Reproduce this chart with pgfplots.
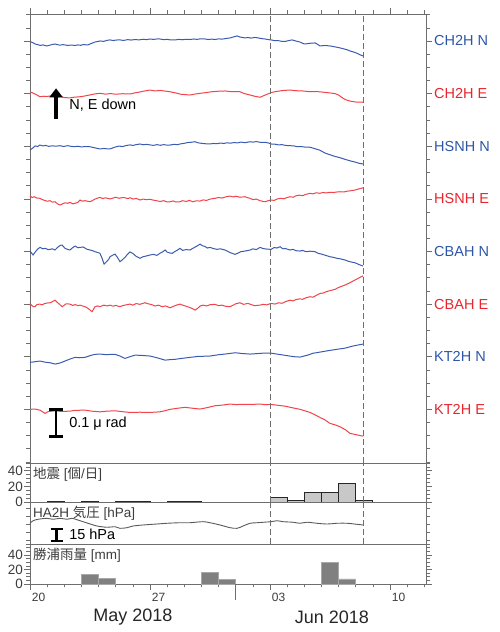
\documentclass[border=0pt]{standalone}
\usepackage{pgfplots}
\pgfplotsset{compat=1.18}
\usepackage{pgfplotstable}
\usepackage{fontspec}
\setmainfont{Liberation Sans}
\newfontfamily\cjk{Noto Sans CJK JP}
\usetikzlibrary{arrows.meta}
\definecolor{tblue}{HTML}{3A5CB0}
\definecolor{tred}{HTML}{F0434B}
\definecolor{lblue}{HTML}{2D56A8}
\definecolor{lred}{HTML}{E8252D}
\definecolor{axgray}{HTML}{6E6E6E}
\definecolor{txtgray}{HTML}{3C3C3C}
\definecolor{eqfill}{HTML}{C8C8C8}
\definecolor{rainfill}{HTML}{808080}
\definecolor{rainedge}{HTML}{A8A8A8}
\definecolor{presline}{HTML}{5A5A5A}

\pgfplotstableread{
x y
0 27.95
0.15 27.88
0.3 27.77
0.45 27.72
0.6 27.66
0.75 27.70
0.99 27.62
1.15 27.68
1.3 27.73
1.46 27.77
1.6 27.72
1.75 27.68
1.9 27.72
2.04 27.70
2.2 27.66
2.4 27.69
2.63 27.66
2.8 27.70
2.95 27.67
3.1 27.72
3.38 27.70
3.55 27.80
3.79 27.92
3.95 27.96
4.08 28.00
4.3 27.97
4.5 28.05
4.67 28.08
4.85 28.03
5.0 28.07
5.25 28.08
5.45 28.04
5.7 28.10
5.9 28.07
6.13 28.11
6.35 28.08
6.6 28.13
6.8 28.10
7.0 28.15
7.2 28.12
7.4 28.15
7.58 28.15
7.8 28.10
8.0 28.12
8.2 28.08
8.46 28.08
8.7 28.12
8.9 28.09
9.1 28.13
9.33 28.11
9.55 28.15
9.75 28.12
9.92 28.16
10.21 28.15
10.4 28.11
10.6 28.14
10.79 28.11
11.0 28.16
11.2 28.14
11.45 28.19
11.67 28.23
11.85 28.30
12.08 28.38
12.25 28.30
12.54 28.23
12.72 28.26
12.9 28.22
13.13 28.27
13.35 28.22
13.5 28.18
13.71 28.15
13.9 28.10
14.06 28.08
14.25 28.03
14.5 28.02
14.7 27.97
14.88 27.96
15.05 28.02
15.29 28.08
15.5 28.00
15.75 27.92
15.93 27.80
16.04 27.77
16.3 27.82
16.63 27.85
16.8 27.72
16.92 27.62
17.2 27.66
17.5 27.62
17.8 27.55
18.09 27.47
18.3 27.40
18.5 27.33
18.67 27.24
18.9 27.15
19.1 27.05
19.25 26.95
19.43 26.86
}\chN

\pgfplotstableread{
x y
0 24.14
0.2 24.02
0.4 23.90
0.58 23.76
0.8 23.80
1.0 23.78
1.17 23.82
1.4 23.75
1.6 23.72
1.8 23.78
2.0 23.70
2.33 23.67
2.55 23.72
2.92 23.76
3.2 23.82
3.5 23.90
3.8 23.98
4.08 24.02
4.4 23.96
4.7 24.00
5.0 23.95
5.4 23.99
5.83 23.97
6.1 24.05
6.4 24.12
6.7 24.20
7.0 24.27
7.3 24.20
7.6 24.24
8.17 24.14
8.5 24.05
8.8 23.95
9.33 23.89
9.6 23.96
9.92 24.02
10.3 24.08
10.6 24.14
11.0 24.18
11.38 24.20
11.7 24.15
12.25 24.14
12.5 24.00
12.84 23.89
13.1 23.80
13.42 23.72
13.7 23.88
14.06 24.07
14.3 24.15
14.59 24.20
14.8 24.24
15.17 24.27
15.5 24.22
15.9 24.20
16.34 24.14
16.7 24.16
17.0 24.12
17.5 24.05
17.79 24.00
18.0 23.89
18.2 23.70
18.38 23.55
18.67 23.43
19.0 23.36
19.43 23.34
}\chE

\pgfplotstableread{
x y
0 19.71
0.15 19.85
0.3 20.02
0.45 19.98
0.58 20.09
0.75 20.02
0.9 20.06
1.1 19.99
1.3 20.03
1.5 20.00
1.75 20.04
1.95 19.98
2.2 20.04
2.4 19.99
2.6 19.96
2.8 20.00
3.0 19.94
3.2 19.98
3.5 19.96
3.7 19.90
3.9 19.84
4.08 19.79
4.3 19.83
4.5 19.80
4.67 19.79
4.85 19.88
5.0 19.95
5.2 20.01
5.4 19.97
5.6 20.05
5.83 20.10
6.0 20.06
6.2 20.12
6.42 20.17
6.6 20.11
6.8 20.14
7.0 20.10
7.2 20.06
7.4 20.12
7.6 20.07
7.8 20.12
8.0 20.08
8.17 20.09
8.4 20.14
8.6 20.12
8.8 20.18
9.0 20.22
9.2 20.28
9.4 20.30
9.63 20.34
9.8 20.26
10.0 20.22
10.2 20.19
10.5 20.17
10.7 20.21
10.9 20.19
11.1 20.24
11.3 20.21
11.5 20.26
11.7 20.23
11.9 20.28
12.1 20.25
12.3 20.31
12.54 20.27
12.84 20.34
13.0 20.31
13.2 20.35
13.42 20.30
13.71 20.30
13.9 20.25
14.06 20.17
14.3 20.15
14.5 20.10
14.7 20.12
14.9 20.06
15.17 20.04
15.4 20.02
15.6 19.96
15.8 19.98
16.0 19.94
16.34 19.92
16.6 19.82
16.9 19.70
17.21 19.48
17.5 19.35
17.8 19.22
18.1 19.12
18.38 19.00
18.7 18.88
19.0 18.78
19.2 18.70
19.43 18.65
}\hsN

\pgfplotstableread{
x y
0 16.24
0.12 16.10
0.25 16.16
0.4 16.06
0.58 16.04
0.7 15.95
0.85 15.88
1.0 15.82
1.17 15.86
1.3 15.75
1.46 15.78
1.6 15.62
1.75 15.53
1.9 15.62
2.04 15.70
2.2 15.66
2.33 15.73
2.5 15.62
2.63 15.66
2.8 15.74
2.92 15.91
3.05 15.82
3.2 15.86
3.5 15.78
3.65 15.88
3.8 15.98
3.95 16.06
4.08 16.11
4.25 16.02
4.4 16.08
4.67 15.99
4.85 16.06
5.0 16.12
5.2 16.04
5.4 16.10
5.54 16.08
5.7 16.02
5.85 16.08
6.0 15.98
6.2 16.03
6.42 15.91
6.6 15.98
6.8 15.94
7.0 15.96
7.2 15.90
7.4 15.85
7.6 15.80
7.8 15.86
8.0 15.76
8.17 15.78
8.35 15.84
8.5 15.76
8.75 15.78
8.9 15.86
9.1 15.80
9.3 15.88
9.5 15.78
9.7 15.85
9.92 15.83
10.1 15.92
10.3 15.88
10.5 15.98
10.79 16.04
11.0 16.10
11.2 16.06
11.45 16.16
11.67 16.21
11.85 16.14
12.0 16.20
12.25 16.12
12.54 16.16
12.7 16.08
12.84 16.04
13.0 15.94
13.2 15.98
13.42 15.86
13.6 15.80
13.71 15.78
13.9 15.86
14.06 15.91
14.25 15.88
14.4 15.98
14.6 16.04
14.8 16.00
15.0 16.10
15.17 16.16
15.35 16.12
15.5 16.22
15.7 16.28
15.9 16.24
16.1 16.34
16.34 16.42
16.5 16.38
16.7 16.46
16.9 16.42
17.1 16.48
17.3 16.45
17.5 16.50
17.7 16.48
17.9 16.52
18.09 16.54
18.3 16.52
18.5 16.58
18.75 16.62
18.96 16.67
19.2 16.76
19.43 16.84
}\hsE

\pgfplotstableread{
x y
0 12.03
0.18 11.73
0.3 11.95
0.45 12.18
0.58 12.31
0.75 12.20
0.9 12.24
1.05 12.14
1.17 12.16
1.3 12.20
1.46 12.11
1.6 12.30
1.75 12.45
1.87 12.49
2.04 12.24
2.2 12.15
2.33 12.11
2.5 12.30
2.63 12.41
2.8 12.28
2.92 12.31
3.1 12.34
3.3 12.18
3.5 12.11
3.65 12.06
3.79 11.98
3.95 11.92
4.08 11.86
4.2 11.50
4.32 11.04
4.45 11.20
4.6 11.42
4.67 11.60
4.8 11.70
4.96 11.80
5.1 11.55
5.25 11.22
5.4 11.38
5.54 11.55
5.7 11.80
5.83 11.96
6.0 11.85
6.2 11.62
6.42 11.48
6.6 11.60
6.8 11.66
7.0 11.73
7.2 11.78
7.4 11.70
7.58 11.86
7.75 11.98
7.88 12.11
8.0 11.95
8.17 11.88
8.3 11.86
8.46 12.00
8.6 12.10
8.75 12.24
8.9 12.08
9.1 12.14
9.33 12.11
9.5 12.24
9.7 12.38
9.85 12.50
9.92 12.56
10.05 12.44
10.2 12.38
10.35 12.26
10.5 12.31
10.7 12.22
10.9 12.16
11.1 12.20
11.38 12.11
11.55 12.00
11.7 11.90
11.96 11.78
12.15 11.88
12.3 11.98
12.54 12.03
12.84 12.11
13.0 12.20
13.2 12.14
13.42 12.31
13.6 12.22
13.8 12.18
14.06 12.16
14.25 12.30
14.4 12.26
14.59 12.36
14.75 12.20
14.9 12.22
15.17 12.11
15.35 12.16
15.5 12.06
15.75 12.03
15.9 12.08
16.1 11.98
16.34 12.02
16.63 11.98
16.8 11.86
17.0 11.80
17.2 11.72
17.5 11.60
17.7 11.55
17.9 11.48
18.1 11.44
18.38 11.35
18.6 11.24
18.8 11.18
18.96 11.14
19.2 11.00
19.43 10.89
}\cbN

\pgfplotstableread{
x y
0 8.05
0.1 7.90
0.18 7.82
0.29 7.80
0.4 7.96
0.58 8.00
0.7 7.94
0.85 8.04
1.0 8.08
1.17 8.10
1.3 8.18
1.46 8.30
1.6 8.12
1.75 7.95
1.87 7.80
2.0 7.92
2.1 8.02
2.33 8.00
2.5 7.90
2.63 7.96
2.8 7.88
2.92 7.92
3.1 7.84
3.25 7.78
3.38 7.67
3.5 7.55
3.62 7.42
3.7 7.60
3.79 7.80
3.95 7.86
4.08 7.80
4.3 7.92
4.5 7.86
4.67 7.92
4.85 7.84
5.0 7.90
5.25 7.80
5.4 7.88
5.6 7.94
5.83 8.00
6.0 7.92
6.2 8.04
6.4 7.98
6.71 8.10
6.9 8.02
7.1 7.96
7.29 7.85
7.5 7.92
7.7 7.80
7.9 7.86
8.17 7.72
8.35 7.82
8.5 7.90
8.75 8.00
8.9 7.92
9.1 7.84
9.3 7.75
9.5 7.64
9.63 7.54
9.8 7.70
9.92 7.85
10.1 7.92
10.3 7.86
10.5 7.95
10.79 7.98
11.0 7.88
11.2 7.92
11.38 7.84
11.67 7.80
11.85 7.92
12.0 8.02
12.25 8.10
12.45 7.98
12.72 8.05
12.9 7.96
13.1 7.88
13.42 7.92
13.6 7.98
13.8 7.94
14.06 8.05
14.3 8.00
14.5 8.10
14.7 8.06
14.9 8.18
15.17 8.30
15.35 8.24
15.5 8.34
15.75 8.40
15.9 8.36
16.1 8.48
16.34 8.56
16.5 8.52
16.7 8.66
16.92 8.81
17.1 8.84
17.3 8.95
17.5 9.02
17.79 9.12
18.0 9.26
18.2 9.36
18.38 9.45
18.6 9.58
18.8 9.72
18.96 9.83
19.15 9.96
19.3 10.06
19.43 10.15
}\cbE

\pgfplotstableread{
x y
0 3.57
0.3 3.62
0.58 3.67
0.9 3.58
1.17 3.54
1.46 3.44
1.75 3.52
2.04 3.67
2.33 3.82
2.63 3.95
2.9 3.92
3.21 3.95
3.5 4.08
3.79 4.18
4.1 4.20
4.4 4.16
4.96 4.18
5.25 4.05
5.54 3.87
5.83 4.00
6.13 4.12
6.5 4.10
7.0 4.05
7.4 3.92
7.88 3.74
8.2 3.78
8.46 3.80
8.9 3.88
9.33 3.95
9.8 4.02
10.5 4.05
11.0 4.15
11.5 4.22
11.96 4.30
12.4 4.24
12.84 4.20
13.3 4.24
13.7 4.28
14.06 4.27
14.5 4.18
15.0 4.08
15.4 4.00
15.75 3.97
16.2 4.12
16.5 4.26
16.92 4.35
17.4 4.46
17.9 4.56
18.38 4.65
18.8 4.80
19.1 4.88
19.43 4.96
}\ktN

\pgfplotstableread{
x y
0 0.0
0.3 0.02
0.58 -0.06
0.75 -0.20
0.88 -0.31
1.05 -0.18
1.46 -0.11
1.8 -0.16
2.33 -0.14
2.6 -0.08
3.21 -0.06
3.6 -0.14
4.08 -0.19
4.5 -0.14
4.96 -0.11
5.4 -0.18
5.83 -0.24
6.4 -0.22
7.0 -0.24
7.58 -0.19
7.9 -0.10
8.17 0.0
8.6 0.08
9.04 0.15
9.5 0.08
9.92 0.02
10.3 0.12
10.79 0.27
11.2 0.32
11.67 0.40
12.0 0.36
12.25 0.37
12.84 0.37
13.42 0.40
13.7 0.36
14.06 0.37
14.5 0.30
14.88 0.24
15.3 0.12
15.75 0.0
16.0 -0.10
16.34 -0.24
16.6 -0.40
16.92 -0.62
17.2 -0.80
17.5 -1.07
17.8 -1.18
18.09 -1.33
18.4 -1.55
18.67 -1.83
19.0 -1.92
19.2 -1.98
19.43 -2.04
}\ktE

\pgfplotstableread{
x y
0 1010.9
0.18 1014.1
0.47 1015.9
0.99 1017.1
1.34 1015.9
1.75 1017.1
2.16 1015.9
2.45 1017.1
2.92 1014.1
3.38 1010.9
3.91 1007.5
4.49 1005.9
4.96 1006.6
5.25 1004.6
5.66 1005.4
6.01 1007.5
6.59 1008.75
7.41 1010.0
7.99 1010.9
8.75 1011.6
9.33 1011.6
10.09 1012.9
10.50 1011.6
11.09 1008.75
11.67 1005.4
12.08 1004.6
12.43 1007.5
12.84 1010.9
13.25 1011.6
14.06 1012.9
14.41 1014.1
14.76 1012.9
15.34 1012.2
15.75 1010.9
16.16 1012.2
16.74 1010.9
17.33 1010.0
17.91 1010.9
18.50 1010.9
19.08 1009.6
19.43 1008.75
}\pres

\pgfplotsset{
  base/.style={
    scale only axis, width=396pt, xmin=0, xmax=23.1,
    axis line style={draw=axgray, line width=0.9pt},
    every tick/.style={draw=axgray, line width=0.6pt},
    tick align=outside,
    major tick length=5.5pt, minor tick length=3.5pt,
    /pgf/number format/assume math mode=true,
    ticklabel style={text=txtgray},
  },
}

\begin{document}
\begin{tikzpicture}
\useasboundingbox (0pt,0pt) rectangle (500pt,632pt);

% ---------------- main tilt panel ----------------
\begin{axis}[base, at={(30pt,169pt)}, anchor=south west, height=449pt,
  ymin=-4.08, ymax=30.05,
  xtick={0,7,14,21}, minor xtick={0,1,...,23}, xticklabels={}, xtick pos=upper,
  ytick={0,4,...,28}, minor ytick={-4,-3,...,30}, ytick pos=both, yticklabel pos=right,
  yticklabels={{\color{lred}KT2H E},{\color{lblue}KT2H N},{\color{lred}CBAH E},{\color{lblue}CBAH N},
               {\color{lred}HSNH E},{\color{lblue}HSNH N},{\color{lred}CH2H E},{\color{lblue}CH2H N}},
  yticklabel style={font=\fontsize{14.5}{15}\selectfont, inner sep=2.5pt},
  clip=false]
\addplot[tblue, line width=1pt, mark=none] table {\chN};
\addplot[tred, line width=1pt, mark=none] table {\chE};
\addplot[tblue, line width=1pt, mark=none] table {\hsN};
\addplot[tred, line width=1pt, mark=none] table {\hsE};
\addplot[tblue, line width=1pt, mark=none] table {\cbN};
\addplot[tred, line width=1pt, mark=none] table {\cbE};
\addplot[tblue, line width=1pt, mark=none] table {\ktN};
\addplot[tred, line width=1pt, mark=none] table {\ktE};
\draw[axgray, line width=1pt, dash pattern=on 6pt off 3pt] (axis cs:14,-4.08) -- (axis cs:14,30.05);
\draw[axgray, line width=1pt, dash pattern=on 6pt off 3pt] (axis cs:19.43,-4.08) -- (axis cs:19.43,30.05);
% arrow
\draw[black, line width=3.4pt, -{Triangle[length=9pt,width=13pt]}] (axis cs:1.52,22.05) -- (axis cs:1.52,24.4);
\node[anchor=west, inner sep=0pt, font=\fontsize{14.5}{15}\selectfont] at (axis cs:2.28,23.13) {N, E down};
% scale bar
\draw[black, line width=2.8pt] (axis cs:1.52,0) -- (axis cs:1.52,-2.04);
\draw[black, line width=2.8pt] (axis cs:1.1,0) -- (axis cs:1.94,0);
\draw[black, line width=2.8pt] (axis cs:1.1,-2.04) -- (axis cs:1.94,-2.04);
\node[anchor=west, inner sep=0pt, font=\fontsize{14.5}{15}\selectfont] at (axis cs:2.28,-1.07) {0.1 μ rad};
\end{axis}

% ---------------- earthquakes ----------------
\begin{axis}[base, at={(30pt,130pt)}, anchor=south west, height=39pt,
  ymin=0, ymax=50, xtick=\empty,
  ytick={0,20,40}, minor ytick={0,5,...,50}, ytick pos=both, yticklabel pos=left,
  yticklabel style={font=\fontsize{13.5}{14}\selectfont, inner sep=1.5pt},
  clip=false]
\addplot[ybar, bar width=1, fill=eqfill, draw=black!85, line width=0.9pt] coordinates {
 (1.5,1) (3.5,1) (5.5,1) (6.5,1) (8.5,1) (9.5,1)
 (14.5,6) (15.5,2) (16.5,12) (17.5,12) (18.5,24) (19.5,2)};
\draw[axgray, line width=1pt, dash pattern=on 6pt off 3pt] (axis cs:14,0) -- (axis cs:14,50);
\draw[axgray, line width=1pt, dash pattern=on 6pt off 3pt] (axis cs:19.43,0) -- (axis cs:19.43,50);
\node[anchor=north west, inner sep=0pt, text=txtgray, font=\fontsize{13.5}{14}\selectfont] at (rel axis cs:0,1) [xshift=3pt, yshift=-3.5pt] {{\cjk 地震} [{\cjk 個}/{\cjk 日}]};
\end{axis}

% ---------------- pressure ----------------
\begin{axis}[base, at={(30pt,88pt)}, anchor=south west, height=42pt,
  ymin=985, ymax=1037.5, xtick=\empty,
  ytick={990,1000,...,1030}, yticklabels={}, ytick pos=both, major tick length=3.5pt,
  clip=false]
\addplot[presline, line width=0.9pt, mark=none, smooth] table {\pres};
\draw[axgray, line width=1pt, dash pattern=on 6pt off 3pt] (axis cs:14,985) -- (axis cs:14,1037.5);
\draw[axgray, line width=1pt, dash pattern=on 6pt off 3pt] (axis cs:19.43,985) -- (axis cs:19.43,1037.5);
\draw[black, line width=2.6pt] (axis cs:1.56,988.7) -- (axis cs:1.56,1003.7);
\draw[black, line width=2.6pt] (axis cs:1.2,988.7) -- (axis cs:1.92,988.7);
\draw[black, line width=2.6pt] (axis cs:1.2,1003.7) -- (axis cs:1.92,1003.7);
\node[anchor=west, inner sep=0pt, font=\fontsize{14.5}{15}\selectfont] at (axis cs:2.28,997) {15 hPa};
\node[anchor=north west, inner sep=0pt, text=txtgray, font=\fontsize{13.5}{14}\selectfont] at (rel axis cs:0,1) [xshift=3pt, yshift=-4pt] {HA2H {\cjk 気圧} [hPa]};
\end{axis}

% ---------------- rainfall ----------------
\begin{axis}[base, at={(30pt,48pt)}, anchor=south west, height=40pt,
  ymin=0, ymax=55,
  xtick={0,7,14,21}, minor xtick={0,1,...,23}, xticklabels={}, xtick pos=lower,
  extra x ticks={0.5,7.5,14.5,21.5}, extra x tick labels={20,27,03,10},
  extra x tick style={major tick length=0pt, every tick/.style={draw=none},
     xticklabel style={yshift=-6pt, font=\fontsize{12}{12}\selectfont, text=txtgray}},
  ytick={0,20,40}, minor ytick={0,5,...,55}, ytick pos=both, yticklabel pos=left,
  yticklabel style={font=\fontsize{13.5}{14}\selectfont, inner sep=1.5pt},
  clip=false]
\addplot[ybar, bar width=1, fill=rainfill, draw=rainedge, line width=0.8pt] coordinates {
 (3.5,13) (4.5,8) (10.5,15.5) (11.5,6.5) (17.5,30) (18.5,7)};
\draw[axgray, line width=0.9pt] (axis cs:12,0) -- ++(0pt,-16pt);
\node[anchor=north west, inner sep=0pt, text=txtgray, font=\fontsize{13.5}{14}\selectfont] at (rel axis cs:0,1) [xshift=3pt, yshift=-4pt] {{\cjk 勝浦雨量} [mm]};
\end{axis}

\node[font=\fontsize{18}{18}\selectfont, text=black!85] at (133pt,15pt) {May 2018};
\node[font=\fontsize{18}{18}\selectfont, text=black!85] at (332pt,15pt) {Jun 2018};
\end{tikzpicture}
\end{document}
